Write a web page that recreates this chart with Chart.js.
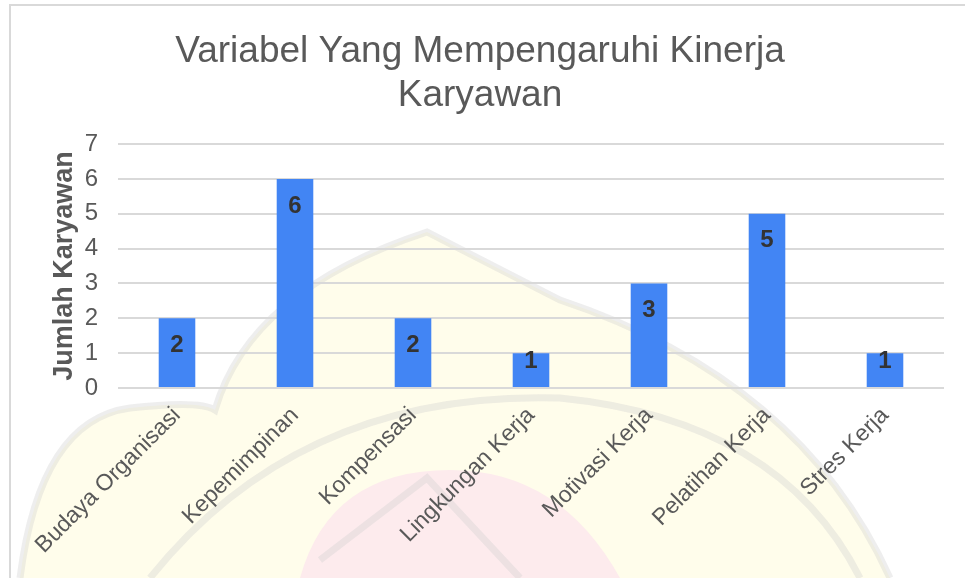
<!DOCTYPE html>
<html>
<head>
<meta charset="utf-8">
<script src="https://cdn.jsdelivr.net/npm/chart.js@4/dist/chart.umd.min.js"></script>
<style>
	html, body { margin: 0; padding: 0; background: #fff; }
	body { width: 965px; height: 578px; overflow: hidden; position: relative; }
	.frame { position: absolute; left: 9px; top: 4px; width: 980px; height: 600px; border-left: 2px solid #d9d9d9; border-top: 2px solid #d9d9d9; }
	.wrap { position: absolute; left: 0; top: 0; width: 965px; height: 578px; }
</style>
</head>
<body>
<div class="frame"></div>
<div class="wrap"><canvas id="chart" width="965" height="578"></canvas></div>
<script>
const categories = ['Budaya Organisasi', 'Kepemimpinan', 'Kompensasi', 'Lingkungan Kerja', 'Motivasi Kerja', 'Pelatihan Kerja', 'Stres Kerja'];
const jumlah = [2, 6, 2, 1, 3, 5, 1];
const yMin = 0;
const yMax = 7;
const yStep = 1;

const FONT = "'Liberation Sans', Arial, sans-serif";
const GREY = '#595959';

// faint university logo behind the chart
function domePath(c) {
	c.beginPath();
	c.moveTo(20, 578);
	c.quadraticCurveTo(40, 420, 130, 408);
	c.quadraticCurveTo(200, 400, 215, 410);
	c.quadraticCurveTo(250, 290, 427, 232);
	c.lineTo(560, 300);
	c.quadraticCurveTo(800, 380, 890, 578);
}

const watermark = {
	id: 'watermark',
	beforeDraw(chart) {
		const c = chart.ctx;
		c.save();
		c.fillStyle = '#fffdeb';
		domePath(c);
		c.closePath();
		c.fill();
		c.fillStyle = '#fdebed';
		c.beginPath();
		c.moveTo(300, 578);
		c.quadraticCurveTo(330, 470, 450, 470);
		c.quadraticCurveTo(560, 470, 620, 578);
		c.closePath();
		c.fill();
		c.strokeStyle = 'rgba(205,205,205,0.35)';
		c.lineWidth = 7;
		domePath(c);
		c.stroke();
		c.beginPath();
		c.moveTo(150, 578);
		c.quadraticCurveTo(300, 390, 560, 398);
		c.quadraticCurveTo(780, 420, 860, 578);
		c.stroke();
		c.beginPath();
		c.moveTo(320, 560);
		c.lineTo(427, 478);
		c.lineTo(520, 578);
		c.stroke();
		c.restore();
	}
};

// value labels inside the top of each bar
const barLabels = {
	id: 'barLabels',
	afterDatasetsDraw(chart) {
		const c = chart.ctx;
		const meta = chart.getDatasetMeta(0);
		c.save();
		c.font = 'bold 24px ' + FONT;
		c.fillStyle = '#333333';
		c.textAlign = 'center';
		c.textBaseline = 'middle';
		meta.data.forEach((bar, i) => {
			const h = bar.base - bar.y;
			const y = bar.y + Math.min(27, h - 26);
			c.fillText(jumlah[i], bar.x, y);
		});
		c.restore();
	}
};

const data_variabel = {
	labels: categories,
	datasets: [
		{
			label: 'Jumlah Karyawan',
			data: jumlah,
			backgroundColor: '#4285F4',
			borderWidth: 0,
			barPercentage: 0.31,
			categoryPercentage: 1,
		}
	]
};

const config_variabel = {
	type: 'bar',
	data: data_variabel,
	plugins: [watermark, barLabels],
	options: {
		responsive: false,
		animation: false,
		layout: {
			padding: { left: 16, right: 21, top: 0, bottom: 0 }
		},
		plugins: {
			legend: { display: false },
			tooltip: { enabled: false },
			title: {
				display: true,
				text: ['Variabel Yang Mempengaruhi Kinerja', 'Karyawan'],
				color: GREY,
				font: { family: FONT, size: 37, weight: 'normal', lineHeight: 1.19 },
				padding: { top: 30, bottom: 26 }
			}
		},
		scales: {
			x: {
				grid: { display: false, drawTicks: false },
				border: { display: false },
				ticks: {
					color: GREY,
					font: { family: FONT, size: 23 },
					minRotation: 45,
					maxRotation: 45,
					autoSkip: false,
					padding: 14
				},
				afterFit(scale) { scale.height = 190; }
			},
			y: {
				min: yMin,
				max: yMax,
				grid: { color: '#d9d9d9', lineWidth: 2, drawTicks: false },
				border: { display: false },
				ticks: {
					stepSize: yStep,
					color: GREY,
					font: { family: FONT, size: 24 },
					padding: 20
				},
				title: {
					display: true,
					text: 'Jumlah Karyawan',
					color: GREY,
					font: { family: FONT, size: 27, weight: 'bold' },
					padding: { top: 32, bottom: 0 }
				},
				afterFit(scale) { scale.width = 102; }
			}
		}
	}
};

const variabel = new Chart(document.getElementById('chart'), config_variabel);
</script>
</body>
</html>
